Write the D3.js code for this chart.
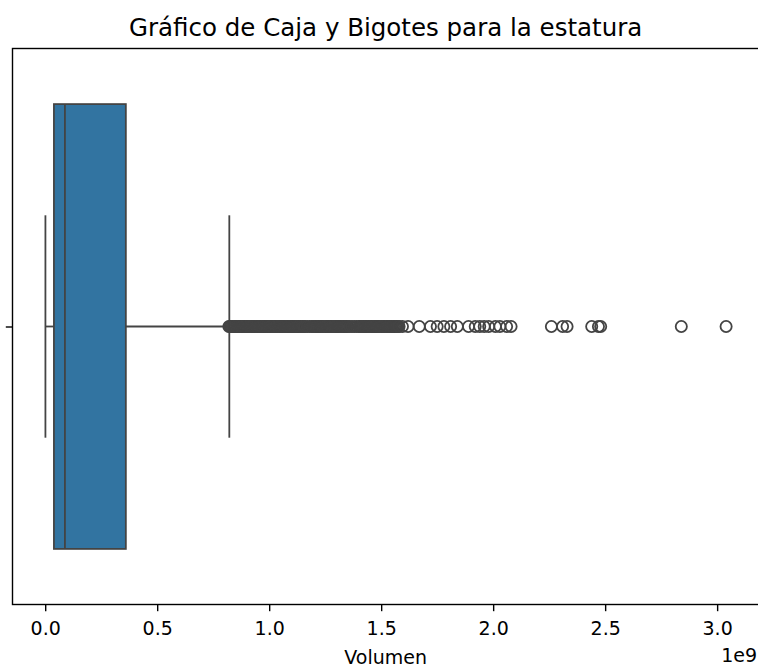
<!DOCTYPE html>
<html>
<head>
<meta charset="utf-8">
<script src="https://cdn.jsdelivr.net/npm/d3@7"></script>
<style>
  body { margin: 0; background: #fff; }
  text { font-family: "DejaVu Sans", sans-serif; fill: #000; }
</style>
</head>
<body>
<svg width="758" height="669"></svg>
<script>
(function (d3) {
  'use strict';

  // Values in units of 1e9
  const categories = ['Volumen'];
  // lower whisker, Q1, median, Q3, upper whisker
  const boxValues = [0.001, 0.039, 0.088, 0.36, 0.822];
  const outliers = [
    0.82, 0.825, 0.83, 0.835, 0.84, 0.845, 0.85, 0.855, 0.86, 0.865, 0.87, 0.875, 0.88, 0.885,
    0.89, 0.895, 0.90, 0.905, 0.91, 0.915, 0.92, 0.925, 0.93, 0.935, 0.94, 0.945, 0.95, 0.955,
    0.96, 0.965, 0.97, 0.975, 0.98, 0.985, 0.99, 0.995, 1.00, 1.005, 1.01, 1.015, 1.02, 1.025,
    1.03, 1.035, 1.04, 1.045, 1.05, 1.055, 1.06, 1.065, 1.07, 1.075, 1.08, 1.085, 1.09, 1.095,
    1.10, 1.105, 1.11, 1.115, 1.12, 1.125, 1.13, 1.135, 1.14, 1.145, 1.15, 1.155, 1.16,
    1.17, 1.18, 1.19, 1.195, 1.20, 1.205, 1.21, 1.215, 1.22, 1.225, 1.23, 1.235, 1.24, 1.245,
    1.25, 1.255, 1.26, 1.265, 1.27, 1.275, 1.28, 1.285, 1.29, 1.295, 1.30, 1.305, 1.31, 1.315,
    1.32, 1.325, 1.33, 1.335, 1.34, 1.345, 1.35, 1.36, 1.37, 1.38, 1.39, 1.40, 1.405, 1.41,
    1.415, 1.42, 1.425, 1.43, 1.435, 1.44, 1.445, 1.45, 1.455, 1.46, 1.465, 1.47, 1.475, 1.48,
    1.485, 1.49, 1.495, 1.50, 1.505, 1.51, 1.515, 1.52, 1.525, 1.53, 1.535, 1.54, 1.545, 1.55,
    1.555, 1.56, 1.565, 1.57, 1.575, 1.58, 1.595,
    1.62, 1.67, 1.72, 1.75, 1.78, 1.81, 1.84, 1.89, 1.92, 1.94, 1.96, 1.98, 2.01, 2.03,
    2.06, 2.08, 2.26, 2.31, 2.33, 2.44, 2.47, 2.48, 2.84, 3.04
  ];
  const xTicks = [0, 0.5, 1.0, 1.5, 2.0, 2.5, 3.0];
  const xDomain = [-0.146, 3.186];

  const svg = d3.select('svg');

  // Axes frame in pixels
  const left = 12.5, top = 48.5, right = 758.8, bottom = 604.5;

  const xScale = d3.scaleLinear().domain(xDomain).range([left, right]);
  const yScale = d3.scaleLinear().domain([-0.5, 0.5]).range([top, bottom]);

  const boxColor = '#3274a1';
  const lineColor = '#444444';
  const lw = 1.8;

  const plotG = svg.append('g');

  const yMid = yScale(0);
  const boxHalf = 0.4;
  const capHalf = 0.2;
  const [wLo, q1, med, q3, wHi] = boxValues;

  // whiskers
  plotG.append('line')
    .attr('x1', xScale(wLo)).attr('x2', xScale(q1))
    .attr('y1', yMid).attr('y2', yMid)
    .attr('stroke', lineColor).attr('stroke-width', lw);
  plotG.append('line')
    .attr('x1', xScale(q3)).attr('x2', xScale(wHi))
    .attr('y1', yMid).attr('y2', yMid)
    .attr('stroke', lineColor).attr('stroke-width', lw);

  // caps
  [wLo, wHi].forEach(v => {
    plotG.append('line')
      .attr('x1', xScale(v)).attr('x2', xScale(v))
      .attr('y1', yScale(-capHalf)).attr('y2', yScale(capHalf))
      .attr('stroke', lineColor).attr('stroke-width', lw);
  });

  // box
  plotG.append('rect')
    .attr('x', xScale(q1))
    .attr('y', yScale(-boxHalf))
    .attr('width', xScale(q3) - xScale(q1))
    .attr('height', yScale(boxHalf) - yScale(-boxHalf))
    .attr('fill', boxColor)
    .attr('stroke', lineColor)
    .attr('stroke-width', lw);

  // median
  plotG.append('line')
    .attr('x1', xScale(med)).attr('x2', xScale(med))
    .attr('y1', yScale(-boxHalf)).attr('y2', yScale(boxHalf))
    .attr('stroke', lineColor).attr('stroke-width', lw);

  // fliers
  plotG.selectAll('.flier').data(outliers)
    .enter().append('circle')
    .attr('class', 'flier')
    .attr('cx', d => xScale(d))
    .attr('cy', yMid)
    .attr('r', 5.6)
    .attr('fill', 'none')
    .attr('stroke', lineColor)
    .attr('stroke-width', 1.8);

  // x axis
  const xAxisG = svg.append('g')
    .attr('transform', `translate(0,${bottom})`)
    .call(d3.axisBottom(xScale)
      .tickValues(xTicks)
      .tickFormat(d3.format('.1f'))
      .tickSize(6.7)
      .tickPadding(10.5)
      .tickSizeOuter(0));
  xAxisG.select('.domain').remove();
  xAxisG.selectAll('.tick line').attr('stroke', '#000').attr('stroke-width', 1.4);
  xAxisG.selectAll('.tick text')
    .attr('font-size', '19px')
    .attr('font-family', '"DejaVu Sans", sans-serif')
    .attr('fill', '#000');

  // y axis (single category tick, no label)
  const yAxisG = svg.append('g')
    .attr('transform', `translate(${left},0)`)
    .call(d3.axisLeft(yScale)
      .tickValues([0])
      .tickFormat('')
      .tickSize(6.7)
      .tickSizeOuter(0));
  yAxisG.select('.domain').remove();
  yAxisG.selectAll('.tick line').attr('stroke', '#000').attr('stroke-width', 1.4);

  // spines
  svg.append('rect')
    .attr('x', left).attr('y', top)
    .attr('width', right - left).attr('height', bottom - top)
    .attr('fill', 'none')
    .attr('stroke', '#000')
    .attr('stroke-width', 1.4);

  // title and labels
  svg.append('text')
    .attr('x', (left + right) / 2)
    .attr('y', 36)
    .attr('text-anchor', 'middle')
    .attr('font-size', '24.5px')
    .text('Gráfico de Caja y Bigotes para la estatura');

  svg.append('text')
    .attr('x', (left + right) / 2)
    .attr('y', 664)
    .attr('text-anchor', 'middle')
    .attr('font-size', '19px')
    .text(categories[0]);

  svg.append('text')
    .attr('x', 757)
    .attr('y', 661.5)
    .attr('text-anchor', 'end')
    .attr('font-size', '19px')
    .text('1e9');

}(d3));
</script>
</body>
</html>
